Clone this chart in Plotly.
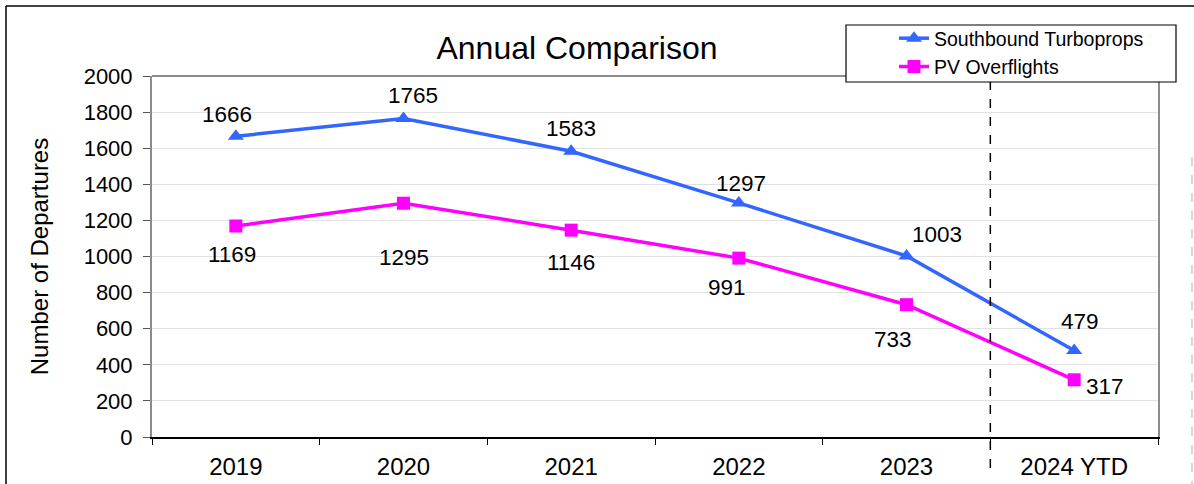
import plotly.graph_objects as go

# ---- data ----
categories = ["2019", "2020", "2021", "2022", "2023", "2024 YTD"]
southbound_turboprops = [1666, 1765, 1583, 1297, 1003, 479]
pv_overflights = [1169, 1295, 1146, 991, 733, 317]
series_names = ["Southbound Turboprops", "PV Overflights"]
y_ticks = [0, 200, 400, 600, 800, 1000, 1200, 1400, 1600, 1800, 2000]

# label offsets (pixels, style only)
sb_label_dx = [-9, 9, 0, 2, 30, 6]
sb_label_dy = [22, 23, 23, 19, 21, 29]
pv_label_dx = [-4, 0, 0, -12, -14, 31]
pv_label_dy = [-28, -54, -32, -29, -35, -7]

FONT = "Liberation Sans, Arial, sans-serif"
BLUE = "#3366FF"
MAGENTA = "#FF00FF"

W, H = 1194, 484
L, R, T, B = 152, 1158, 76, 437


def px_x(p):
    return (p - L) / (R - L)


def px_y(p):
    return (B - p) / (B - T)


fig = go.Figure()
fig.add_trace(go.Scatter(
    x=categories, y=southbound_turboprops, name=series_names[0], mode="lines+markers",
    line=dict(color=BLUE, width=3.5),
    marker=dict(symbol="triangle-up", size=14, color=BLUE),
))
fig.add_trace(go.Scatter(
    x=categories, y=pv_overflights, name=series_names[1], mode="lines+markers",
    line=dict(color=MAGENTA, width=3.5),
    marker=dict(symbol="square", size=13, color=MAGENTA),
))

annotations = []
for i, (v, dx, dy) in enumerate(zip(southbound_turboprops, sb_label_dx, sb_label_dy)):
    annotations.append(dict(x=i, y=v, xref="x", yref="y", text=str(v), showarrow=False,
                            xshift=dx, yshift=dy, font=dict(family=FONT, size=22.5, color="black")))
for i, (v, dx, dy) in enumerate(zip(pv_overflights, pv_label_dx, pv_label_dy)):
    annotations.append(dict(x=i, y=v, xref="x", yref="y", text=str(v), showarrow=False,
                            xshift=dx, yshift=dy, font=dict(family=FONT, size=22.5, color="black")))

shapes = [
    # top border of plot area (gray)
    dict(type="line", xref="paper", yref="paper", x0=0, x1=1, y0=1, y1=1,
         line=dict(color="#8C8C8C", width=2), layer="above"),
    # dashed separator between 2023 and 2024 YTD
    dict(type="line", xref="x", yref="paper", x0=4.5, x1=4.5, y0=px_y(468), y1=1,
         line=dict(color="black", width=1.5, dash="dash"), layer="above"),
    # legend box
    dict(type="rect", xref="paper", yref="paper", x0=px_x(846), x1=px_x(1176),
         y0=px_y(82), y1=px_y(25), fillcolor="white", line=dict(color="black", width=1.2),
         layer="above"),
    # outer chart frame
    dict(type="line", xref="paper", yref="paper", x0=px_x(6), x1=px_x(1194), y0=px_y(6), y1=px_y(6),
         line=dict(color="black", width=1.5)),
    dict(type="line", xref="paper", yref="paper", x0=px_x(6), x1=px_x(6), y0=px_y(6), y1=px_y(486),
         line=dict(color="black", width=1.5)),
    dict(type="line", xref="paper", yref="paper", x0=px_x(1192), x1=px_x(1192), y0=px_y(157), y1=px_y(486),
         line=dict(color="#BDBDBD", width=1.2, dash="dash")),
]

fig.update_layout(
    width=W, height=H,
    margin=dict(l=L, r=W - R, t=T, b=H - B, pad=0, autoexpand=False),
    paper_bgcolor="white", plot_bgcolor="white",
    font=dict(family=FONT, color="black"),
    title=dict(text="Annual Comparison", x=px_x(577), xref="paper", xanchor="center",
               y=1 - 48 / H, yref="container", yanchor="middle",
               font=dict(family=FONT, size=32, color="black")),
    showlegend=True,
    legend=dict(x=px_x(894), xanchor="left", y=px_y(19), yanchor="top",
                bgcolor="rgba(0,0,0,0)", borderwidth=0,
                font=dict(family=FONT, size=19.5, color="black"), tracegroupgap=0),
    annotations=annotations,
    shapes=shapes,
)

fig.update_xaxes(
    type="category", range=[-0.5, 5.5], tickson="boundaries",
    ticks="outside", ticklen=6, tickwidth=1.2, tickcolor="black",
    showline=True, linecolor="black", linewidth=1.5,
    showgrid=False, zeroline=False, automargin=False,
    tickfont=dict(family=FONT, size=24, color="black"), ticklabelstandoff=7,
)
fig.update_yaxes(
    range=[0, 2000], tickvals=y_ticks, ticktext=[str(v) for v in y_ticks],
    ticks="outside", ticklen=7, tickwidth=1.2, tickcolor="#555555",
    showline=True, linecolor="#8C8C8C", linewidth=2, mirror=True,
    showgrid=True, gridcolor="#E2E2E2", gridwidth=1, zeroline=False, automargin=False,
    tickfont=dict(family=FONT, size=22, color="black"), ticklabelstandoff=6,
    title=dict(text="Number of Departures", font=dict(family=FONT, size=24, color="black"), standoff=28),
)

fig.write_html("out.html", config={"displayModeBar": False},
               post_script="document.body.style.margin='0px';")
